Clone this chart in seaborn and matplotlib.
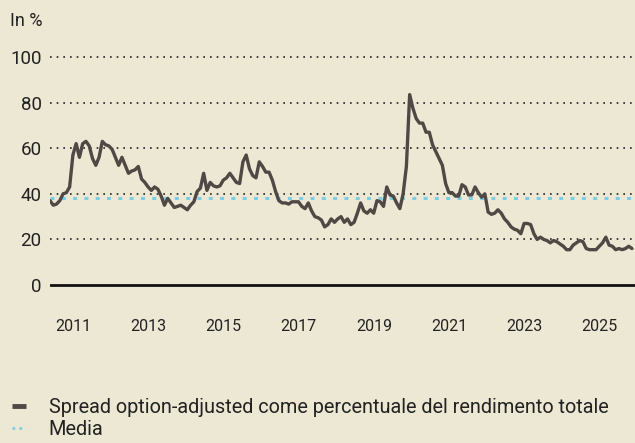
import numpy as np
import pandas as pd
import matplotlib
matplotlib.use("Agg")
import matplotlib.pyplot as plt
from matplotlib.lines import Line2D
import seaborn as sns

# Serie mensile (gen 2011 - nov 2025), in %
spread_pct = [
    37, 35, 35.5, 37, 40, 40.5, 43, 57, 62, 56, 62, 63, 61, 55.5, 52.5, 56,
    63, 61.5, 61, 59.5, 56, 52.5, 56, 52.5, 49, 50, 50.5, 52, 46.5, 45, 43, 41.5,
    43, 42, 39, 35, 38, 36, 34, 34.5, 35, 34, 33, 35, 36.5,
    41, 42.5, 49, 41.5, 45, 43.5, 43, 43.5, 46, 47, 49, 47, 45, 44.5, 54, 57,
    51, 48, 47, 54, 52, 49.5, 49.5, 46, 41, 37, 36, 36, 35.5, 36.5, 36.5, 36.5,
    34.5, 33.5, 36, 32.5, 30, 29.5, 28.5, 25.5, 26.5, 29, 27.5, 29, 30, 27.5, 29,
    26.5, 27.5,
    31.5, 36, 32.5, 31.5, 33, 31.5, 37, 36.5, 34.5, 43, 39.5, 39, 36, 33.5, 40, 52,
    83.5, 77.5, 73, 71, 71, 67, 67, 61.5, 58.5, 55.5, 52.5, 44.5, 40.5, 40.5, 39, 39,
    44, 43, 39.5, 39.5, 43, 40.5, 38.5, 40,
    32, 31, 31.5, 33, 31.5, 29, 27.5, 25.5, 24.5, 24, 22.5, 27, 27, 26.5, 22.5, 20,
    21, 20, 19.5, 18.5, 19.5, 19, 18, 17, 15.5, 15.5, 17.5, 18.5, 19.5, 19, 16, 15.5,
    15.5, 15.5, 17, 18.5, 21, 17.5, 17, 15.5, 16, 15.5, 16, 17, 16,
]
media = 38
year_labels = ["2011", "2013", "2015", "2017", "2019", "2021", "2023", "2025"]
y_ticks = [0, 20, 40, 60, 80, 100]

label_serie = "Spread option-adjusted come percentuale del rendimento totale"
label_media = "Media"

df = pd.DataFrame({"mese": np.arange(len(spread_pct)), "valore": spread_pct})

bg = "#ede8d3"
line_col = "#4f4845"
media_col = "#7ccde6"

sns.set_theme(style="white")
plt.rcParams["font.family"] = ["Roboto", "DejaVu Sans"]

W, H = 635, 443
fig = plt.figure(figsize=(W / 100, H / 100), dpi=100, facecolor=bg)
ax = fig.add_axes([50 / W, 1 - 289.6 / H, 585 / W, 237.2 / H], facecolor=bg)

ax.grid(False)
for yv in y_ticks[1:]:
    ax.axhline(yv, color="#222222", lw=1.2, ls=(0, (1, 3)), zorder=1)
ax.axhline(0, color="#111111", lw=2, zorder=2)
ax.axhline(media, color=media_col, lw=2.2, ls=(0, (1.3, 2.4)), zorder=3)

sns.lineplot(data=df, x="mese", y="valore", color=line_col, lw=2.4, ax=ax, zorder=4)

n = len(spread_pct)
ax.set_xlim(0, (n - 1) * 585 / 582)
ax.set_ylim(-2, 102)
ax.set_yticks(y_ticks)
ax.set_yticklabels([str(v) for v in y_ticks])
# etichette anni distribuite uniformemente come nell'originale
step = (n - 1) * 75.05 / 582
first = (n - 1) * 23.7 / 582
ax.set_xticks([first + step * i for i in range(len(year_labels))])
ax.set_xticklabels(year_labels)
ax.set_xlabel("")
ax.set_ylabel("")
for s in ax.spines.values():
    s.set_visible(False)
ax.tick_params(axis="y", length=0, pad=6, labelsize=13.5, labelcolor="#222222")
ax.tick_params(axis="x", length=0, pad=21, labelsize=11.5, labelcolor="#222222")

fig.text(10 / W, 1 - 21 / H, "In %", fontsize=13, color="#222222", va="center")

handles = [
    Line2D([0], [0], color=line_col, lw=3.5, solid_capstyle="butt"),
    Line2D([0], [0], color=media_col, lw=2, ls=(0, (1, 1.5))),
]
fig.legend(handles, [label_serie, label_media], loc="upper left",
           bbox_to_anchor=(12 / W, 1 - 398 / H), frameon=False, fontsize=14.3,
           handlelength=0.7, handletextpad=1.15, labelspacing=0.15,
           borderpad=0, borderaxespad=0, labelcolor="#222222")

fig.savefig("out.png", dpi=100, facecolor=bg)
